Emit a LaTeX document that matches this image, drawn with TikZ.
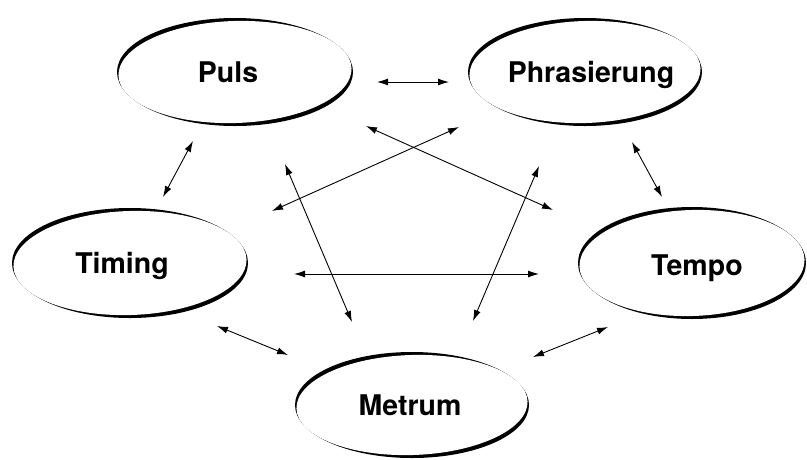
\documentclass[tikz,border=0pt]{standalone}
\usepackage{fontspec}
\setmainfont{TeX Gyre Heros}
\usetikzlibrary{arrows.meta}
\tikzset{
  lbl/.style={font=\fontsize{28.5}{31}\selectfont\bfseries, inner sep=0pt, anchor=base},
  link/.style={line width=0.9pt, {Latex[length=11pt,width=7pt]}-{Latex[length=11pt,width=7pt]}},
}
\newcommand{\callell}[4]{% cx cy rx ry
  \fill[black] (#1,#2) ellipse [x radius=#3, y radius=#4];
  \fill[white, rotate around={1.8:(#1,#2)}] (#1,#2) ellipse [x radius=#3-1.4, y radius=#4-3];
}
\begin{document}
\begin{tikzpicture}[x=1pt,y=-1pt]
\useasboundingbox (0,0) rectangle (807,459);
\callell{235}{72}{118}{54}
\callell{585}{72}{117}{54}
\callell{130}{263}{118}{55}
\callell{412}{405}{117}{53}
\callell{692}{263}{114}{56}

\node[lbl] (puls) at (228,82) {Puls};
\node[lbl] (phr) at (591,82) {Phrasierung};
\node[lbl] (tim) at (122,273) {Timing};
\node[lbl] (met) at (410,415) {Metrum};
\node[lbl] (tem) at (697,275) {Tempo};

\coordinate (a1) at (377,82);  \coordinate (b1) at (449,82);
\coordinate (a2) at (193,141); \coordinate (b2) at (163,197);
\coordinate (a3) at (632,142); \coordinate (b3) at (662,197);
\coordinate (a4) at (217,326); \coordinate (b4) at (288,355);
\coordinate (a5) at (533,357); \coordinate (b5) at (608,327);
\coordinate (a6) at (366,126); \coordinate (b6) at (553,210);
\coordinate (a7) at (459,127); \coordinate (b7) at (272,211);
\coordinate (a8) at (285,164); \coordinate (b8) at (352,322);
\coordinate (a9) at (539,166); \coordinate (b9) at (473,321);
\coordinate (a10) at (294,274); \coordinate (b10) at (539,274);

\foreach \i in {1,...,10} \draw[link] (a\i) -- (b\i);
\end{tikzpicture}
\end{document}
